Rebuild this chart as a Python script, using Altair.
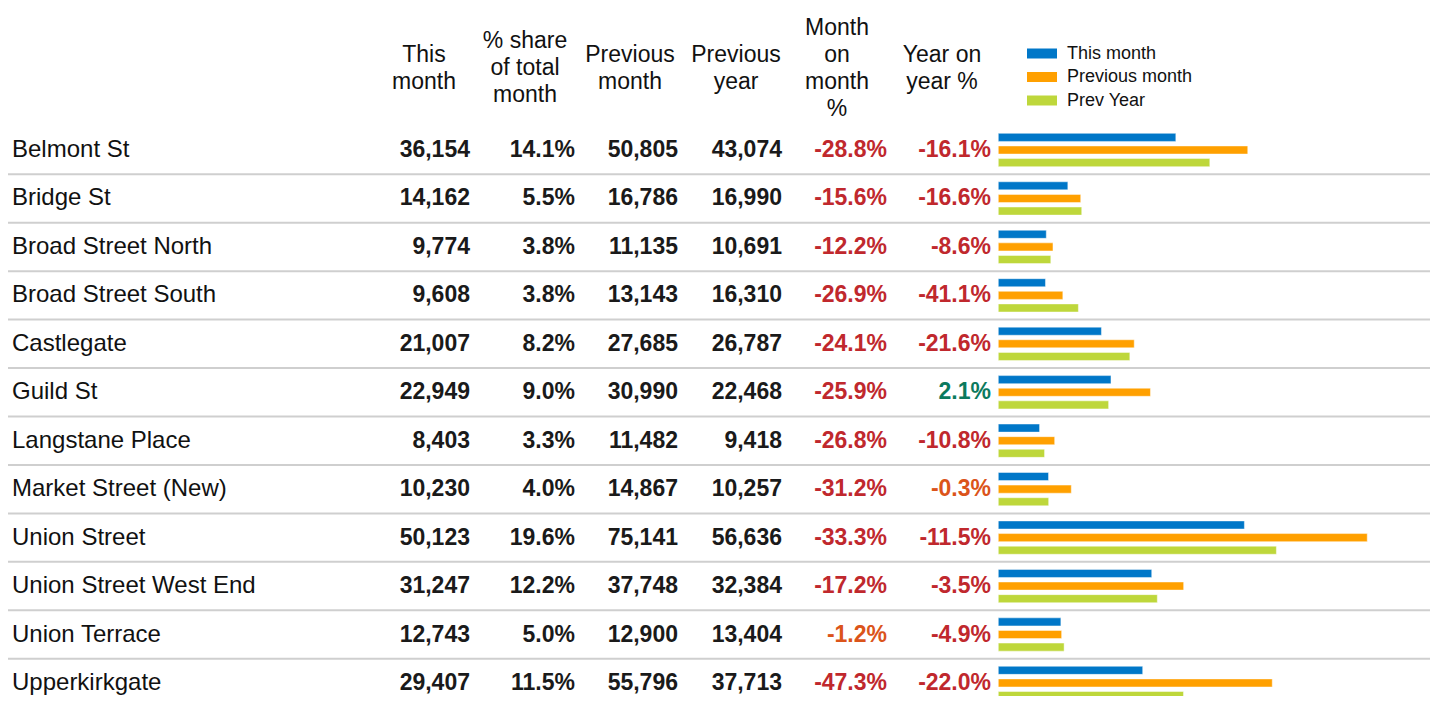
import altair as alt
import pandas as pd

locations = ["Belmont St", "Bridge St", "Broad Street North", "Broad Street South",
             "Castlegate", "Guild St", "Langstane Place", "Market Street (New)",
             "Union Street", "Union Street West End", "Union Terrace", "Upperkirkgate"]
this_month = [36154, 14162, 9774, 9608, 21007, 22949, 8403, 10230, 50123, 31247, 12743, 29407]
share_pct = [14.1, 5.5, 3.8, 3.8, 8.2, 9.0, 3.3, 4.0, 19.6, 12.2, 5.0, 11.5]
prev_month = [50805, 16786, 11135, 13143, 27685, 30990, 11482, 14867, 75141, 37748, 12900, 55796]
prev_year = [43074, 16990, 10691, 16310, 26787, 22468, 9418, 10257, 56636, 32384, 13404, 37713]
mom_pct = [-28.8, -15.6, -12.2, -26.9, -24.1, -25.9, -26.8, -31.2, -33.3, -17.2, -1.2, -47.3]
yoy_pct = [-16.1, -16.6, -8.6, -41.1, -21.6, 2.1, -10.8, -0.3, -11.5, -3.5, -4.9, -22.0]
series_names = ["This month", "Previous month", "Prev Year"]
header_labels = ["This\nmonth", "% share\nof total\nmonth", "Previous\nmonth",
                 "Previous\nyear", "Month\non\nmonth\n%", "Year on\nyear %"]

FONT = "Liberation Sans"
FS = 23
W, H = 1422, 688
ROW_STEP = 48.45
ROW_TOP = 142 - ROW_STEP / 2
RED, ORANGE, GREEN = "#c0282d", "#db541a", "#0b7a5e"
BAR_COLORS = ["#0077c8", "#ffa000", "#bed73b"]
LINE_H = 27

table = pd.DataFrame({
    "Location": locations, "This": this_month, "Share": share_pct,
    "PrevM": prev_month, "PrevY": prev_year, "MoM": mom_pct, "YoY": yoy_pct,
})
bars = pd.DataFrame({
    "Location": locations * 3,
    "Series": [s for s in series_names for _ in locations],
    "Value": this_month + prev_month + prev_year,
})

yscale = alt.Scale(domain=locations, range=[ROW_TOP, ROW_TOP + ROW_STEP * len(locations)],
                   paddingInner=0, paddingOuter=0)
y_enc = alt.Y("Location:N", scale=yscale, axis=None)

base = alt.Chart(table)

rules = base.mark_rule(color="#cfcfcf", strokeWidth=2).encode(
    y=alt.Y("Location:N", scale=yscale, axis=None, bandPosition=1),
    x=alt.value(0), x2=alt.value(W),
)

names = base.mark_text(align="left", baseline="middle", font=FONT, fontSize=24,
                       color="#111111").encode(y=y_enc, x=alt.value(4), text="Location:N")

layers = [rules, names]

for field, xpos in [("This", 462), ("PrevM", 670), ("PrevY", 774)]:
    layers.append(base.mark_text(align="right", baseline="middle", font=FONT, fontSize=FS,
                                 fontWeight="bold", color="#1a1a1a").encode(
        y=y_enc, x=alt.value(xpos), text=alt.Text(f"{field}:Q", format=",")))

layers.append(base.transform_calculate(
    lab="format(datum.Share, '.1f') + '%'"
).mark_text(align="right", baseline="middle", font=FONT, fontSize=FS,
            fontWeight="bold", color="#1a1a1a").encode(
    y=y_enc, x=alt.value(567), text="lab:N"))

for field, xpos in [("MoM", 879), ("YoY", 983)]:
    layers.append(base.transform_calculate(
        lab=f"(datum.{field} < 0 ? '-' : '') + format(abs(datum.{field}), '.1f') + '%'"
    ).mark_text(align="right", baseline="middle", font=FONT, fontSize=FS,
                fontWeight="bold").encode(
        y=y_enc, x=alt.value(xpos), text="lab:N",
        color={"condition": [{"test": f"datum.{field} > 0", "value": GREEN},
                             {"test": f"datum.{field} > -3", "value": ORANGE}],
               "value": RED}))

HEADER_MID = 60
for label, xc in zip(header_labels, [416, 517, 622, 728, 829, 934]):
    n_lines = label.count("\n") + 1
    layers.append(alt.Chart(pd.DataFrame({"h": [label]})).mark_text(
        align="center", baseline="middle", font=FONT, fontSize=FS, lineHeight=LINE_H,
        lineBreak="\n", color="#111111").encode(
        x=alt.value(xc), y=alt.value(HEADER_MID - (n_lines - 1) * LINE_H / 2), text="h:N"))

scale_k = 0.00491
bar_layer = alt.Chart(bars).mark_bar(stroke="white", strokeOpacity=0.45, strokeWidth=1).encode(
    y=y_enc,
    yOffset=alt.YOffset("Series:N", scale=alt.Scale(domain=series_names,
                                                    paddingInner=0.36, paddingOuter=0.6)),
    x=alt.X("Value:Q", axis=None,
            scale=alt.Scale(domain=[0, 80000], range=[990.3, 990.3 + 80000 * scale_k], nice=False)),
    color=alt.Color("Series:N", scale=alt.Scale(domain=series_names, range=BAR_COLORS),
                    legend=alt.Legend(title=None, orient="none", legendX=1015, legendY=36.5,
                                      symbolType="M -1 -1 H 5 V 1 H -1 Z", symbolSize=100,
                                      symbolStrokeWidth=0, labelOffset=26, labelFont=FONT,
                                      labelFontSize=18, labelColor="#111111",
                                      rowPadding=5.5, padding=0)),
)
layers.append(bar_layer)

chart = alt.layer(*layers).properties(
    width=W, height=H, padding=0, autosize=alt.AutoSizeParams(type="none")
).configure_view(stroke=None)

chart.save("out.html", embed_options={"renderer": "svg", "actions": False})
